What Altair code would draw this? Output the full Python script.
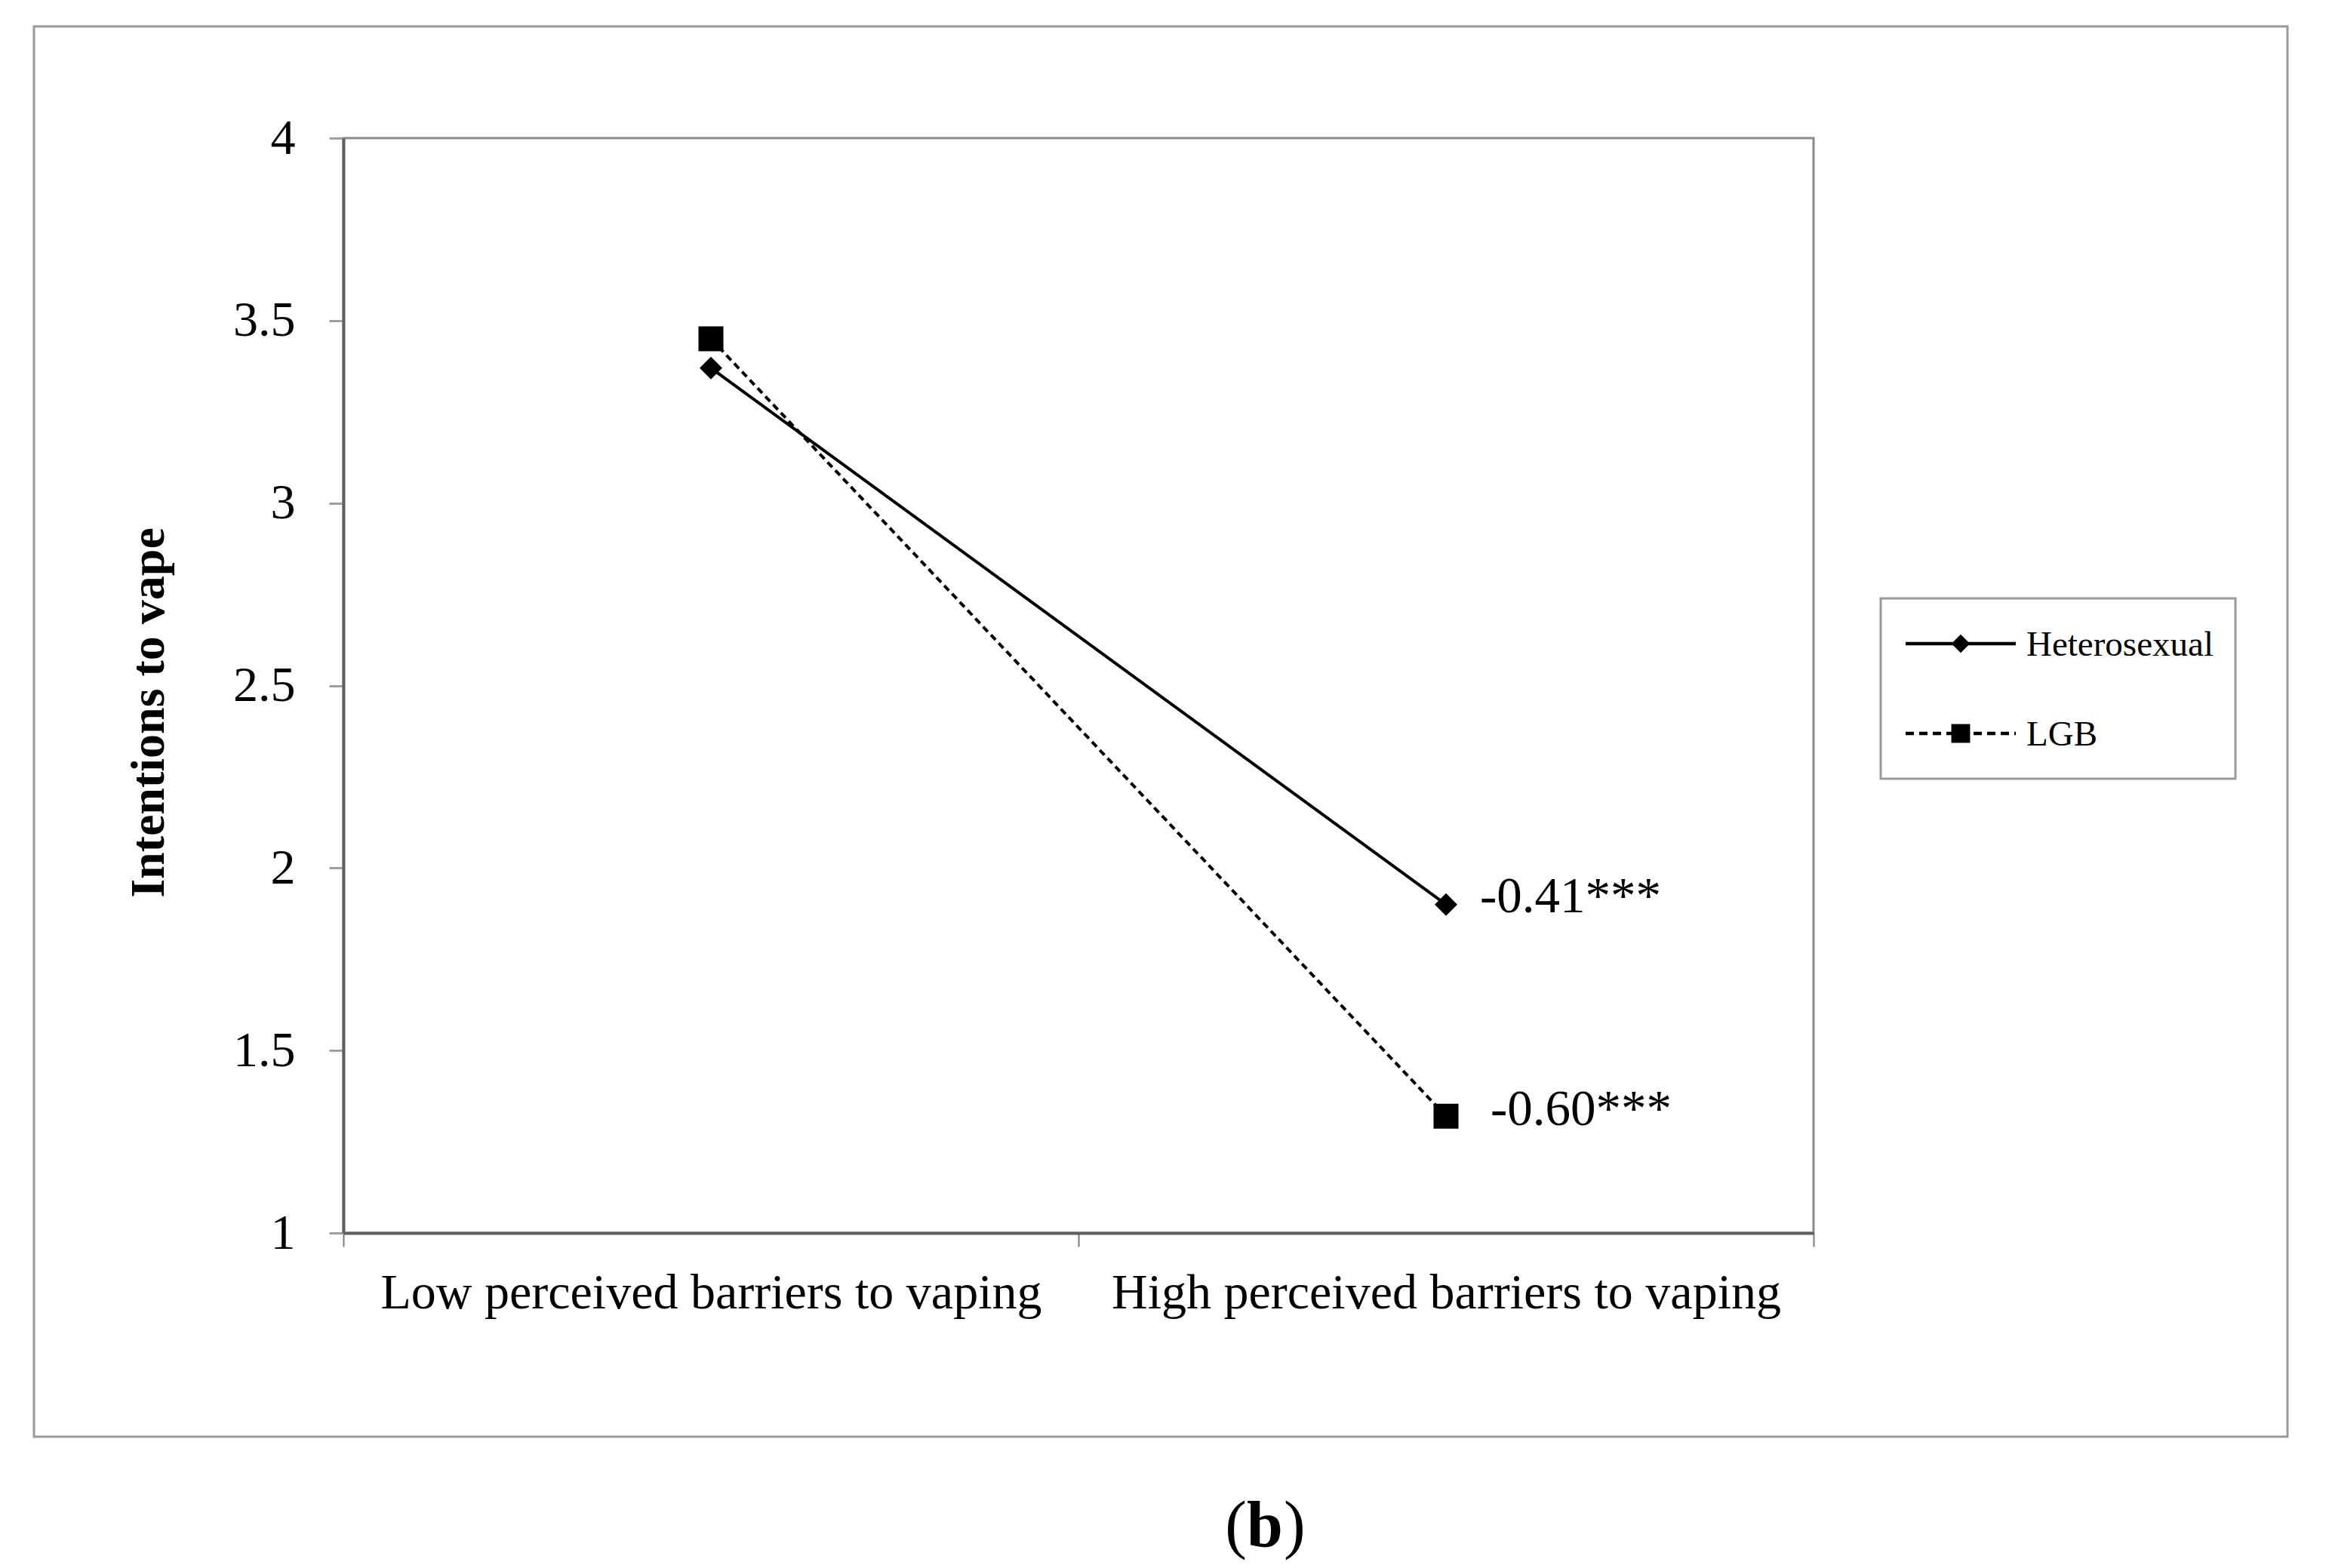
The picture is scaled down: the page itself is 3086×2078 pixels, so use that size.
import altair as alt
import pandas as pd

# ---- data ----
categories = ["Low perceived barriers to vaping", "High perceived barriers to vaping"]
groups = ["Heterosexual", "LGB"]
heterosexual = [3.37, 1.90]
lgb = [3.45, 1.32]
slope_labels = ["-0.41***", "-0.60***"]
y_ticks = [1, 1.5, 2, 2.5, 3, 3.5, 4]
y_title = "Intentions to vape"
panel_label = ["(", "b", ")"]

FONT = "Liberation Serif"
W, H = 1948, 1451

rows = []
for g, vals in zip(groups, [heterosexual, lgb]):
    for c, v in zip(categories, vals):
        rows.append({"group": g, "category": c, "value": v})
df = pd.DataFrame(rows)

ann = pd.DataFrame({
    "group": groups,
    "category": [categories[1]] * len(groups),
    "value": [heterosexual[1], lgb[1]],
    "label": slope_labels,
})

x_enc = alt.X(
    "category:N",
    sort=categories,
    bandPosition=0.5,
    scale=alt.Scale(type="band", paddingInner=0, paddingOuter=0),
    axis=alt.Axis(
        title=None, labelAngle=0, tickBand="extent", ticks=True, tickSize=18,
        tickColor="#7a7a7a", tickWidth=2, domainColor="#5f5f5f", domainWidth=4,
        labelFont=FONT, labelFontSize=66, labelColor="black", labelPadding=81,
        labelBaseline="alphabetic", labelLimit=2000, labelOverlap=False, labelFlush=False,
    ),
)
y_enc = alt.Y(
    "value:Q",
    scale=alt.Scale(domain=[1, 4], nice=False, zero=False),
    axis=alt.Axis(
        values=y_ticks, format="~g", title=y_title, titleFont=FONT, titleFontSize=64,
        titleFontWeight="bold", titleColor="black", titleAngle=270, titleX=-258, titleY=761,
        titleAlign="center", titleBaseline="middle",
        labelFont=FONT, labelFontSize=66, labelColor="black", labelPadding=45,
        tickSize=19, tickColor="#a0a0a0", tickWidth=3, domainColor="#5f5f5f", domainWidth=4,
        grid=False,
    ),
)

base = alt.Chart(df)

lines = base.mark_line(color="black", strokeWidth=4).encode(
    x=x_enc, y=y_enc,
    strokeDash=alt.StrokeDash("group:N", scale=alt.Scale(domain=groups, range=[[1, 0], [9, 6]]), legend=None),
    detail="group:N",
)
points = base.mark_point(filled=True, color="black", opacity=1, strokeWidth=0).encode(
    x=x_enc, y=y_enc,
    shape=alt.Shape("group:N", scale=alt.Scale(domain=groups, range=["diamond", "square"]), legend=None),
    size=alt.Size("group:N", scale=alt.Scale(domain=groups, range=[900, 1089]), legend=None),
)

layers = [lines, points]

# slope annotations
for g, dx, dy in zip(groups, [45, 59], [-10, -8]):
    layers.append(
        alt.Chart(ann).transform_filter(alt.datum.group == g).mark_text(
            font=FONT, fontSize=67, color="black", align="left", baseline="middle", dx=dx, dy=dy
        ).encode(x=x_enc, y=y_enc, text="label:N")
    )

deco = alt.Chart(pd.DataFrame({"k": [0]}))

# outer frame
layers.append(deco.mark_rect(fill=None, stroke="#9a9a9a", strokeWidth=3).encode(
    x=alt.value(-410), x2=alt.value(2576), y=alt.value(-148), y2=alt.value(1721)))

# legend box
layers.append(deco.mark_rect(fill="white", stroke="#9a9a9a", strokeWidth=3).encode(
    x=alt.value(2037), x2=alt.value(2507), y=alt.value(610), y2=alt.value(849)))

leg_y = [670, 789]
leg_dash = [[1, 0], [11, 7]]
leg_shape = ["diamond", "square"]
leg_size = [600, 620]
for g, ly, dsh, shp, sz in zip(groups, leg_y, leg_dash, leg_shape, leg_size):
    layers.append(deco.mark_rule(color="black", strokeWidth=4.5, strokeDash=dsh).encode(
        x=alt.value(2070), x2=alt.value(2216), y=alt.value(ly)))
    layers.append(deco.mark_point(filled=True, color="black", opacity=1, shape=shp, size=sz, strokeWidth=0).encode(
        x=alt.value(2143), y=alt.value(ly)))
    layers.append(deco.mark_text(font=FONT, fontSize=47, color="black", align="left", baseline="middle", text=g).encode(
        x=alt.value(2230), y=alt.value(ly + 2)))

# panel label "(b)"
for t, xa, al, wt in zip(panel_label, [1197, 1221, 1246], ["right", "center", "left"], ["normal", "bold", "normal"]):
    layers.append(deco.mark_text(font=FONT, fontSize=86, color="black", align=al, baseline="alphabetic",
                                 fontWeight=wt, text=t).encode(x=alt.value(xa), y=alt.value(1866)))

chart = alt.layer(*layers).properties(
    width=W, height=H,
    autosize=alt.AutoSizeParams(type="none"),
    padding={"left": 447, "top": 175, "right": 675, "bottom": 436},
    background="white",
).configure_view(stroke="#8c8c8c", strokeWidth=3)

chart.save("out.html", embed_options={"renderer": "svg", "actions": False})
